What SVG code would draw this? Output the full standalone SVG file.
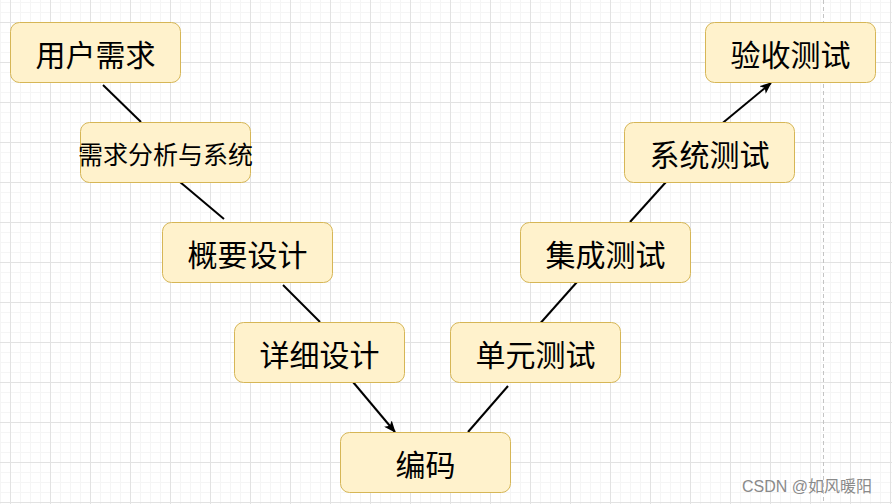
<svg xmlns="http://www.w3.org/2000/svg" width="892" height="504" viewBox="0 0 892 504">
<defs>
<pattern id="minor" patternUnits="userSpaceOnUse" x="0" y="2" width="10" height="10"><path d="M0.5 0V10M0 0.5H10" stroke="#f5f5f5" stroke-width="1" fill="none"/></pattern>
<pattern id="major" patternUnits="userSpaceOnUse" x="10" y="22" width="40" height="40"><path d="M0.5 0V40M0 0.5H40" stroke="#e2e2e2" stroke-width="1" fill="none"/></pattern>
<marker id="arr" viewBox="0 0 12 10" refX="11" refY="5" markerWidth="12" markerHeight="10" markerUnits="userSpaceOnUse" orient="auto"><path d="M0 0L12 5L0 10L3 5Z" fill="#000"/></marker>
<style>
.box{fill:#fff2cc;stroke:#d6b656;stroke-width:1}
.lbl{font-family:"Noto Sans CJK SC","Noto Sans",sans-serif;font-size:30px;fill:#000;text-anchor:middle;dominant-baseline:central}
.edge{stroke:#000;stroke-width:2;fill:none}
</style>
</defs>
<rect width="892" height="504" fill="#fff"/>
<rect width="892" height="504" fill="url(#minor)"/>
<rect width="892" height="504" fill="url(#major)"/>
<line x1="823.5" y1="0" x2="823.5" y2="504" stroke="#c4c4c4" stroke-width="1" stroke-dasharray="4 3"/>
<g id="connectors">
<line class="edge" x1="103" y1="85" x2="141" y2="122"/>
<line class="edge" x1="180" y1="182" x2="224" y2="219"/>
<line class="edge" x1="283" y1="285" x2="320" y2="322"/>
<line class="edge" x1="353" y1="382" x2="395" y2="432" marker-end="url(#arr)"/>
<line class="edge" x1="468" y1="432" x2="508" y2="386"/>
<line class="edge" x1="537" y1="327" x2="577" y2="282"/>
<line class="edge" x1="630" y1="222" x2="666" y2="182"/>
<line class="edge" x1="719" y1="126" x2="771" y2="83" marker-end="url(#arr)"/>
</g>
<g id="n1"><rect class="box" x="10.5" y="22.5" width="170" height="60" rx="9"/><text class="lbl" x="95.5" y="53">用户需求</text></g>
<g id="n2"><rect class="box" x="80.5" y="122.5" width="170" height="60" rx="9"/><text class="lbl" x="165.5" y="153" style="font-size:25px">需求分析与系统</text></g>
<g id="n3"><rect class="box" x="162.5" y="222.5" width="170" height="60" rx="9"/><text class="lbl" x="247.5" y="253">概要设计</text></g>
<g id="n4"><rect class="box" x="234.5" y="322.5" width="170" height="60" rx="9"/><text class="lbl" x="319.5" y="353">详细设计</text></g>
<g id="n5"><rect class="box" x="340.5" y="432.5" width="170" height="60" rx="9"/><text class="lbl" x="425.5" y="463">编码</text></g>
<g id="n6"><rect class="box" x="450.5" y="322.5" width="170" height="60" rx="9"/><text class="lbl" x="535.5" y="353">单元测试</text></g>
<g id="n7"><rect class="box" x="520.5" y="222.5" width="170" height="60" rx="9"/><text class="lbl" x="605.5" y="253">集成测试</text></g>
<g id="n8"><rect class="box" x="624.5" y="122.5" width="170" height="60" rx="9"/><text class="lbl" x="709.5" y="153">系统测试</text></g>
<g id="n9"><rect class="box" x="705.5" y="22.5" width="170" height="60" rx="9"/><text class="lbl" x="790.5" y="53">验收测试</text></g>
<text x="742" y="492" style="font-family:'Liberation Sans','Noto Sans CJK SC',sans-serif;font-size:16px;fill:#8a8a8a">CSDN @如风暖阳</text>
</svg>
